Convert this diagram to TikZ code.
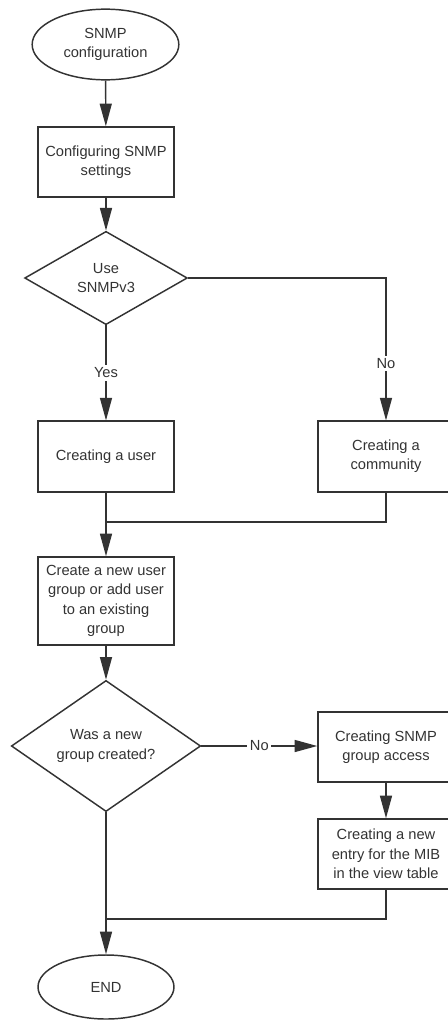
\documentclass[tikz,border=0pt]{standalone}
\usepackage{fontspec}
\setmainfont{Liberation Sans}
\usetikzlibrary{shapes.geometric, arrows.meta, positioning}

\definecolor{grau}{gray}{0.2}

\tikzset{
  basis/.style={draw=grau, line width=1.1pt, text=grau, align=center, inner sep=0pt,
    font=\fontsize{11}{14.5}\selectfont},
  startstop/.style={basis, ellipse},
  prozess/.style={basis, rectangle, minimum width=102pt, minimum height=52.5pt},
  entscheidung/.style={basis, diamond},
  pfeil/.style={draw=grau, line width=1.1pt, -{Triangle[length=17pt,width=9pt]}},
  verbindung/.style={draw=grau, line width=1.1pt},
  beschriftung/.style={fill=white, text=grau, inner sep=2pt, font=\fontsize{11}{14.5}\selectfont}
}

\begin{document}
\begin{tikzpicture}[x=0.75pt, y=-0.75pt]
			\useasboundingbox (0,0) rectangle (447,1021);
			
			% Knoten
			\node[startstop, minimum width=110pt, minimum height=53pt] (start) at (105.5,44.5) {SNMP\\configuration};
			\node[prozess] (config) at (106,162) {Configuring SNMP\\settings};
			\node[entscheidung, minimum width=122pt, minimum height=70pt] (v3) at (106,278) {Use\\SNMPv3};
			\node[prozess, minimum height=53pt] (user) at (106,456.5) {Creating a user};
			\node[prozess, minimum height=53pt] (community) at (386,456.5) {Creating a\\community};
			\node[prozess, minimum height=66pt] (group) at (106,601) {Create a new user\\group or add user\\to an existing\\group};
			\node[entscheidung, minimum width=142pt, minimum height=79.5pt] (created) at (106,746) {Was a new\\group created?};
			\node[prozess] (access) at (386,747) {Creating SNMP\\group access};
			\node[prozess] (mib) at (386,854) {Creating a new\\entry for the MIB\\in the view table};
			\node[startstop, minimum width=102pt, minimum height=48pt] (end) at (106,987) {END};
			
			% Hilfspunkte
			\coordinate (j1) at (106,522);
			\coordinate (j2) at (106,919);
			
			% Verbindungen
			\draw[pfeil] (start) -- (config);
			\draw[pfeil] (config) -- (v3);
			\draw[pfeil] (v3.south) -- node[beschriftung] {Yes} (user.north);
			\draw[pfeil] (v3.east) -| node[beschriftung, pos=0.8] {No} (community.north);
			\draw[verbindung] (community.south) |- (j1);
			\draw[pfeil] (user.south) -- (group.north);
			\draw[pfeil] (group.south) -- (created.north);
			\draw[pfeil] (created.east) -- node[beschriftung] {No} (access.west |- created.east);
			\draw[pfeil] (access) -- (mib);
			\draw[verbindung] (mib.south) |- (j2);
			\draw[pfeil] (created.south) -- (end.north);
		\end{tikzpicture}
\end{document}
